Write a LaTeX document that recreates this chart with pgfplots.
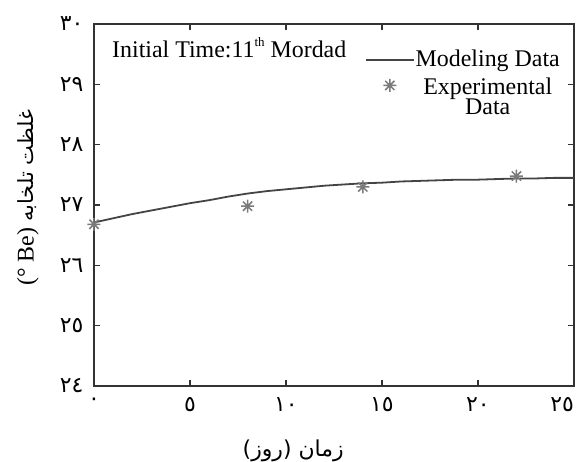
\documentclass[border=0pt]{standalone}
\usepackage{fontspec}
\setmainfont{Liberation Serif}
\newfontfamily\arabicfont[Script=Arabic]{DejaVu Sans}
\usepackage{pgfplots}
\pgfplotsset{compat=1.18}
\TeXXeTstate=1

\definecolor{axcol}{HTML}{333333}
\definecolor{modcol}{HTML}{444444}
\definecolor{expcol}{HTML}{7A7A7A}

% eight-ray asterisk (+ and x together)
\pgfdeclareplotmark{mstar}{%
  \pgfpathmoveto{\pgfqpoint{0pt}{\pgfplotmarksize}}%
  \pgfpathlineto{\pgfqpoint{0pt}{-\pgfplotmarksize}}%
  \pgfpathmoveto{\pgfqpoint{\pgfplotmarksize}{0pt}}%
  \pgfpathlineto{\pgfqpoint{-\pgfplotmarksize}{0pt}}%
  \pgfpathmoveto{\pgfqpoint{.7071\pgfplotmarksize}{.7071\pgfplotmarksize}}%
  \pgfpathlineto{\pgfqpoint{-.7071\pgfplotmarksize}{-.7071\pgfplotmarksize}}%
  \pgfpathmoveto{\pgfqpoint{-.7071\pgfplotmarksize}{.7071\pgfplotmarksize}}%
  \pgfpathlineto{\pgfqpoint{.7071\pgfplotmarksize}{-.7071\pgfplotmarksize}}%
  \pgfusepathqstroke}

\pgfplotsset{
  lineleg/.style={legend image code/.code={\draw[##1] (0bp,-1bp) -- (48bp,-1bp);}},
  markleg/.style={legend image code/.code={\draw[##1] plot coordinates {(24bp,1bp)};}},
}

\newcommand{\latf}{\fontsize{24}{24}\selectfont}
\newcommand{\arf}{\arabicfont\fontsize{22}{22}\selectfont}

\begin{document}
\begin{tikzpicture}
\begin{axis}[
  scale only axis, width=480bp, height=362bp,
  xmin=0, xmax=25, ymin=24, ymax=30,
  xtick={0,5,10,15,20,25}, ytick={24,25,26,27,28,29,30},
  xticklabels={٠,٥,١٠,١٥,٢٠,\makebox[0pt][r]{٢٥}},
  yticklabels={٢٤,٢٥,٢٦,٢٧,٢٨,٢٩,٣٠},
  xtick pos=both, ytick pos=both, tick align=inside,
  major tick length=6bp,
  axis line style={line width=1.6bp, axcol},
  tick style={line width=1.3bp, axcol},
  ticklabel style={font=\arf, text=black},
  xticklabel style={yshift=-8bp},
  yticklabel style={xshift=-7bp},
  xlabel={\arabicfont\beginR زمان (روز)\endR},
  xlabel style={font=\arabicfont\fontsize{22}{22}\selectfont,
    at={(rel axis cs:0.415,0)}, anchor=center, yshift=-65bp},
  ylabel={\latf (° Be) {\arabicfont\fontsize{21}{21}\selectfont\beginR غلظت تلخابه\endR}},
  ylabel style={at={([xshift=-66bp]rel axis cs:0,0.52)}, anchor=center},
  legend style={draw=none, fill=none, at={(rel axis cs:1,1)}, anchor=north east,
    xshift=-13bp, yshift=-25bp, font=\latf, inner sep=0pt, row sep=7bp,
    nodes={inner sep=1bp}},
  legend cell align=center,
]
\addplot[modcol, line width=1.8bp, lineleg]
  coordinates {(0,26.71) (1,26.78) (2,26.85) (3,26.91) (4,26.97) (5,27.03)
    (6,27.08) (7,27.14) (8,27.19) (9,27.23) (10,27.26) (11,27.29) (12,27.32)
    (13,27.34) (14,27.36) (15,27.37) (16,27.39) (17,27.40) (18,27.41)
    (19,27.42) (20,27.42) (21,27.43) (22,27.44) (23,27.44) (24,27.45) (25,27.45)};
\addlegendentry{Modeling Data}
\addplot[only marks, mark=mstar, mark size=6.5bp, expcol, line width=1.5bp, markleg]
  coordinates {(0,26.68) (8,26.98) (14,27.30) (22,27.48)};
\addlegendentry{\begin{tabular}[t]{@{}c@{}}Experimental\\[-3bp]Data\end{tabular}}
\node[anchor=base west, inner sep=0pt, font=\latf]
  at ([xshift=18bp, yshift=-33bp]rel axis cs:0,1)
  {Initial Time:11\raisebox{0.42em}{\fontsize{13}{13}\selectfont th} Mordad};
\end{axis}
\pgfresetboundingbox
\path[use as bounding box] ([shift={(-94bp,-76bp)}]current axis.south west)
  rectangle ([shift={(5bp,24bp)}]current axis.north east);
\end{tikzpicture}
\end{document}
